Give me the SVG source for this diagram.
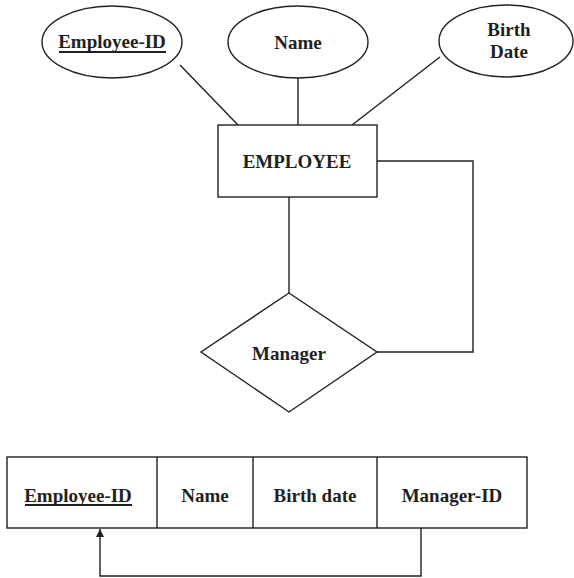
<svg xmlns="http://www.w3.org/2000/svg" width="574" height="578" viewBox="0 0 574 578">
  <style>
    .shape { fill: #fff; stroke: #231f20; stroke-width: 1.4; }
    .line { fill: none; stroke: #231f20; stroke-width: 1.4; }
    .label { font-family: "Liberation Serif", "Times New Roman", serif; font-weight: bold; font-size: 19px; fill: #231f20; text-anchor: middle; }
    .key { stroke: #231f20; stroke-width: 1.8; }
  </style>
  <defs>
    <marker id="arrow" viewBox="0 0 10 10" refX="10" refY="5" markerWidth="8" markerHeight="10" markerUnits="userSpaceOnUse" orient="auto">
      <path d="M0,0 L10,5 L0,10 Z" fill="#231f20"/>
    </marker>
  </defs>

  <!-- connectors -->
  <g id="connectors">
    <line class="line" x1="180" y1="65" x2="238" y2="125"/>
    <line class="line" x1="298" y1="78" x2="298" y2="125"/>
    <line class="line" x1="440" y1="57" x2="352" y2="125"/>
    <line class="line" x1="289" y1="197" x2="289" y2="293"/>
    <polyline class="line" points="377,161 473,161 473,352 377,352"/>
    <polyline class="line" points="421,528 421,576 100,576 100,529" marker-end="url(#arrow)"/>
  </g>

  <!-- attribute: Employee-ID (key) -->
  <g id="attr-employee-id">
    <ellipse class="shape" cx="112" cy="42" rx="70" ry="36"/>
    <text class="label" x="112" y="48">Employee-ID</text>
    <line class="key" x1="59" y1="52" x2="166" y2="52"/>
  </g>

  <!-- attribute: Name -->
  <g id="attr-name">
    <ellipse class="shape" cx="298" cy="42" rx="70" ry="36"/>
    <text class="label" x="298" y="49">Name</text>
  </g>

  <!-- attribute: Birth Date -->
  <g id="attr-birth-date">
    <ellipse class="shape" cx="506" cy="41" rx="67" ry="36"/>
    <text class="label" x="509" y="36">Birth</text>
    <text class="label" x="509" y="58">Date</text>
  </g>

  <!-- entity -->
  <g id="entity-employee">
    <rect class="shape" x="218" y="125" width="159" height="72"/>
    <text class="label" x="297" y="168">EMPLOYEE</text>
  </g>

  <!-- relationship -->
  <g id="rel-manager">
    <polygon class="shape" points="289,293 377,352 289,412 201,352"/>
    <text class="label" x="289" y="360">Manager</text>
  </g>

  <!-- relation table -->
  <g id="table-employee">
    <rect class="shape" x="7" y="457" width="520" height="71"/>
    <line class="line" x1="157" y1="457" x2="157" y2="528"/>
    <line class="line" x1="253" y1="457" x2="253" y2="528"/>
    <line class="line" x1="377" y1="457" x2="377" y2="528"/>
    <text class="label" x="78" y="502">Employee-ID</text>
    <line class="key" x1="25" y1="505" x2="132" y2="505"/>
    <text class="label" x="205" y="502">Name</text>
    <text class="label" x="315" y="502">Birth date</text>
    <text class="label" x="452" y="502">Manager-ID</text>
  </g>
</svg>
